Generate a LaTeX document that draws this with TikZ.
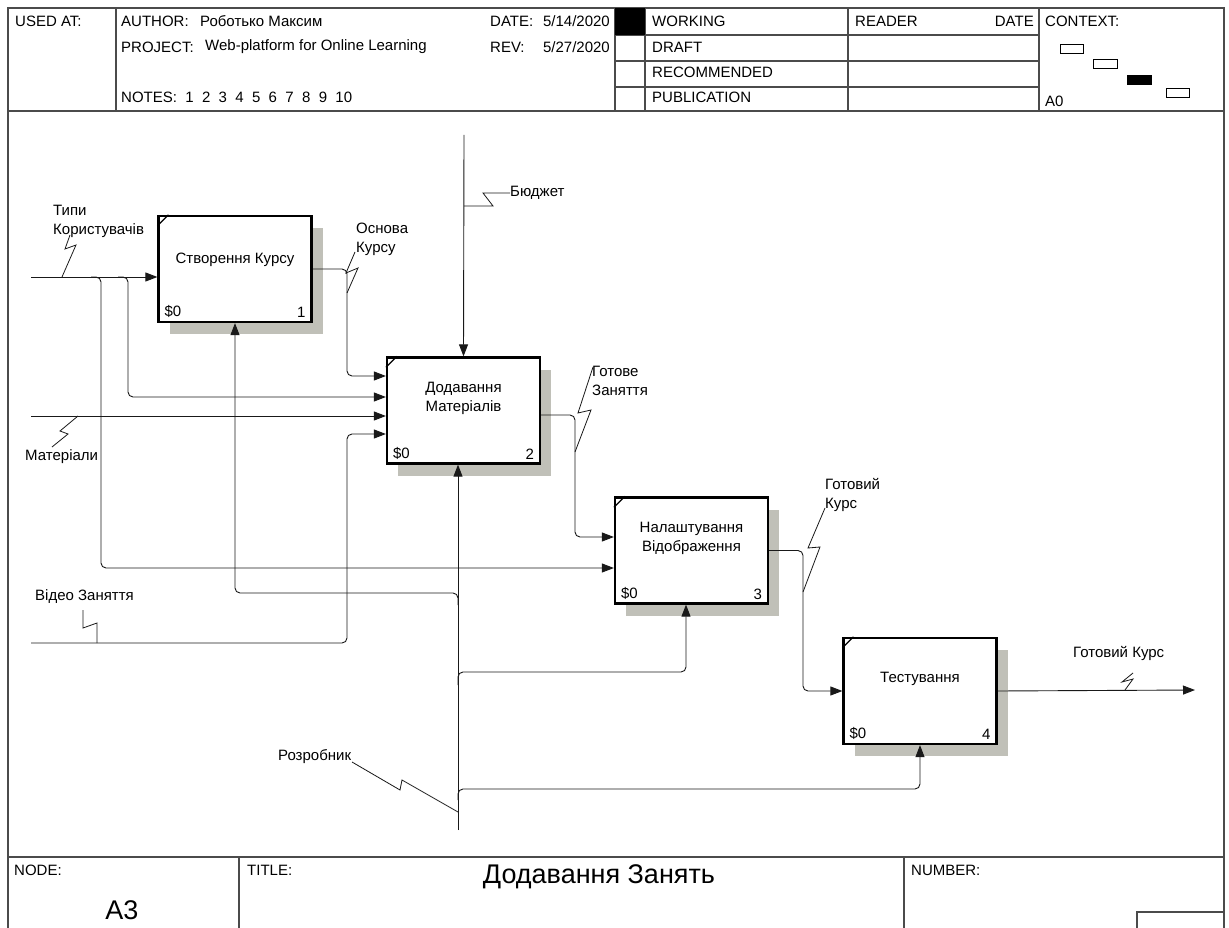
\documentclass[tikz,border=0pt]{standalone}
\usepackage{fontspec}
\setmainfont{Liberation Sans}
\usepackage{tikz}
\usetikzlibrary{arrows.meta, positioning, calc, shadows}
\definecolor{FrameGray}{RGB}{75, 75, 75}
\definecolor{ShadowGray}{RGB}{192, 192, 184}
\definecolor{LineBlack}{RGB}{25, 25, 25}
\newcommand{\labfont}{\fontsize{15}{19}\selectfont}
\newcommand{\bigfont}{\fontsize{27}{32}\selectfont}

\begin{document}
\begin{tikzpicture}[x=1pt, y=-1pt,
  func/.style={draw=black, line width=2.2pt, fill=white,
    minimum width=153pt, minimum height=106pt, inner sep=0pt,
    drop shadow={shadow xshift=11pt, shadow yshift=-12pt, fill=ShadowGray, opacity=1}},
  ftxt/.style={font=\labfont, align=center, inner sep=0pt},
  cnum/.style={font=\labfont, inner xsep=7pt, inner ysep=5pt},
  hdr/.style={font=\labfont, anchor=west, inner sep=0pt},
  tag/.style={font=\labfont, anchor=west, align=left, inner sep=0pt},
  arr/.style={-{Triangle[length=12pt, width=9pt]}, line width=0.9pt, draw=LineBlack, rounded corners=5pt},
  zig/.style={line width=0.8pt, draw=LineBlack},
  frm/.style={line width=1.6pt, draw=FrameGray},
  cornermark/.style={line width=1.2pt}
]
\useasboundingbox (0,0) rectangle (1229,928);

% frame and header
\draw[frm] (8,928) -- (8,8) -- (1224,8) -- (1224,928);
\draw[frm] (8,111) -- (1224,111);
\draw[frm] (116,8) -- (116,111);
\draw[frm] (615,8) -- (615,111);
\draw[frm] (645,8) -- (645,111);
\draw[frm] (848,8) -- (848,111);
\draw[frm] (1039,8) -- (1039,111);
\foreach \r in {35, 61, 87} {
  \draw[frm] (615,\r) -- (1039,\r);
}
\fill[black] (615,8) rectangle (645,35);

\node[hdr] (usedat) at (15,21) {USED AT:};
\node[hdr] (author) at (121,21) {AUTHOR:};
\node[hdr] (authname) at (200,21) {Роботько Максим};
\node[hdr] (project) at (121,47) {PROJECT:};
\node[hdr] (projname) at (205,47) {Web-platform for Online Learning};
\node[hdr] (notes) at (121,97) {NOTES:\ \ 1\ \ 2\ \ 3\ \ 4\ \ 5\ \ 6\ \ 7\ \ 8\ \ 9\ \ 10};
\node[hdr] (date) at (490,21) {DATE:};
\node[hdr, anchor=east] (dateval) at (610,21) {5/14/2020};
\node[hdr] (rev) at (490,47) {REV:};
\node[hdr, anchor=east] (revval) at (610,47) {5/27/2020};
\node[hdr] (working) at (652,21) {WORKING};
\node[hdr] (draft) at (652,47) {DRAFT};
\node[hdr] (recomm) at (652,72) {RECOMMENDED};
\node[hdr] (public) at (652,97) {PUBLICATION};
\node[hdr] (reader) at (855,21) {READER};
\node[hdr, anchor=east] (rdate) at (1034,21) {DATE};
\node[hdr] (context) at (1045,21) {CONTEXT:};
\node[hdr] (azero) at (1045,101) {A0};
\draw[line width=1pt] (1060,45) rectangle (1083,54);
\draw[line width=1pt] (1093,60) rectangle (1117,69);
\fill[black] (1127,75) rectangle (1152,85);
\draw[line width=1pt] (1166,89) rectangle (1189,98);

% footer
\draw[frm] (8,857) -- (1224,857);
\draw[frm] (239,857) -- (239,928);
\draw[frm] (904,857) -- (904,928);
\draw[frm] (1137,928) -- (1137,912) -- (1224,912);
\node[hdr] (nodelbl) at (14,870) {NODE:};
\node[hdr] (titlelbl) at (247,870) {TITLE:};
\node[hdr] (numlbl) at (911,870) {NUMBER:};
\node[font=\bigfont, inner sep=0pt] (nodeval) at (122,910) {A3};
\node[font=\bigfont, inner sep=0pt] (titleval) at (599,877) {Додавання Занять};

% function boxes
\node[func] (cr) at (235,269) {};
\node[ftxt] (cr-t) at ([yshift=9pt]cr.center) {Створення Курсу};
\node[cnum, anchor=south west] at (cr.south west) {\$0};
\node[cnum, anchor=south east] at (cr.south east) {1};
\draw[cornermark] ([yshift=-11pt]cr.north west) -- ([xshift=11pt]cr.north west);

\node[func] (dm) at (463.5,410.5) {};
\node[ftxt] (dm-t) at ([yshift=12.5pt]dm.center) {Додавання\\Матеріалів};
\node[cnum, anchor=south west] at (dm.south west) {\$0};
\node[cnum, anchor=south east] at (dm.south east) {2};
\draw[cornermark] ([yshift=-11pt]dm.north west) -- ([xshift=11pt]dm.north west);

\node[func] (nv) at (691.5,550.5) {};
\node[ftxt] (nv-t) at ([yshift=12.5pt]nv.center) {Налаштування\\Відображення};
\node[cnum, anchor=south west] at (nv.south west) {\$0};
\node[cnum, anchor=south east] at (nv.south east) {3};
\draw[cornermark] ([yshift=-11pt]nv.north west) -- ([xshift=11pt]nv.north west);

\node[func] (ts) at (920,691) {};
\node[ftxt] (ts-t) at ([yshift=12pt]ts.center) {Тестування};
\node[cnum, anchor=south west] at (ts.south west) {\$0};
\node[cnum, anchor=south east] at (ts.south east) {4};
\draw[cornermark] ([yshift=-11pt]ts.north west) -- ([xshift=11pt]ts.north west);

% free ends
\coordinate (tipy) at (31,277);
\coordinate (mater) at (31,416);
\coordinate (video) at (31,643);
\coordinate (budget) at (464,135);
\coordinate (dev) at (458,830);
\coordinate (done) at (1195,690);

% inputs
\draw[arr] (tipy) -- (tipy -| cr.west);
\draw[arr] (91,277) -- (101,277) |- ([yshift=-17.5pt]nv.west);
\draw[arr] (118,277) -- (128,277) |- ([yshift=13.5pt]dm.west);
\draw[arr] (mater) -- (mater -| dm.west);
\draw[arr] (video) -- (347,643) |- ([yshift=-23.5pt]dm.west);

% outputs
\draw[arr] (cr.east) -- (347,269) |- ([yshift=34.5pt]dm.west);
\draw[arr] ([yshift=-4.5pt]dm.east) -- (575,415) |- ([yshift=13.5pt]nv.west);
\draw[arr] (nv.east) -- (803,550.5) |- (ts.west);
\draw[arr] (ts.east) -- (done);

% control and mechanisms
\draw[arr] (budget) -- (dm.north);
\draw[arr] (dev) -- ([xshift=-5.5pt]dm.south);
\draw[arr] (458,605) -- (458,593) -| (cr.south);
\draw[arr] (458,685) -- (458,672) -| ([xshift=-5.5pt]nv.south);
\draw[arr] (458,800) -- (458,789) -| (ts.south);

% arrow labels
\node[tag] (l-tipy) at (53,221.5) {Типи\\Користувачів};
\draw[zig] (70,235) -- (65,249) -- (76,245) -- (62,277);
\node[tag] (l-mater) at (25,457) {Матеріали};
\draw[zig] (52,447) -- (68,434) -- (60,431) -- (78,416);
\node[tag] (l-video) at (35,597) {Відео Заняття};
\draw[zig] (83,610) -- (83,628) -- (97,623) -- (97,643);
\node[tag] (l-osnova) at (356,239.5) {Основа\\Курсу};
\draw[zig] (355,252) -- (346,273) -- (358,268) -- (347,293);
\node[tag] (l-budget) at (510,193) {Бюджет};
\draw[zig] (464,206) -- (493,206) -- (483,193) -- (l-budget.west);
\node[tag] (l-gotove) at (592,381) {Готове\\Заняття};
\draw[zig] (593,367) -- (578,413) -- (591,410) -- (575,452);
\node[tag] (l-gotovyi) at (825,494.5) {Готовий\\Курс};
\draw[zig] (825,508) -- (808,548) -- (820,547) -- (803,592);
\node[tag] (l-dev) at (278,757) {Розробник};
\draw[zig] (352,762) -- (400,790) -- (402,780) -- (458,812);
\node[tag] (l-done) at (1073,653) {Готовий Курс};
\draw[zig] (1133,673) -- (1122,682) -- (1133,679) -- (1125,690);
\end{tikzpicture}
\end{document}
